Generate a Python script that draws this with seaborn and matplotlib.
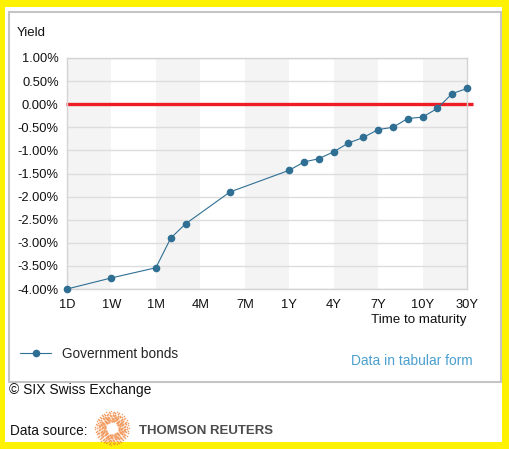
import numpy as np
import pandas as pd
import matplotlib
matplotlib.use("Agg")
import matplotlib.pyplot as plt
import seaborn as sns
from matplotlib.patches import Rectangle

# maturities on the axis (one slot per minor tick), labels every third slot
maturities = ["1D", "2D", "3D", "1W", "2W", "3W", "1M", "2M", "3M", "4M", "5M", "6M",
              "7M", "8M", "9M", "1Y", "2Y", "3Y", "4Y", "5Y", "6Y", "7Y", "8Y", "9Y",
              "10Y", "15Y", "20Y", "30Y"]
tick_labels = ["1D", "1W", "1M", "4M", "7M", "1Y", "4Y", "7Y", "10Y", "30Y"]

# government bond yields (in %)
bond_maturity = ["1D", "1W", "1M", "2M", "3M", "6M", "1Y", "2Y", "3Y", "4Y", "5Y", "6Y",
                 "7Y", "8Y", "9Y", "10Y", "15Y", "20Y", "30Y"]
bond_yield = [-4.00, -3.76, -3.54, -2.90, -2.59, -1.90, -1.43, -1.25, -1.18, -1.03, -0.84,
              -0.72, -0.55, -0.50, -0.31, -0.28, -0.09, 0.23, 0.34]

df = pd.DataFrame({"maturity": bond_maturity, "yield": bond_yield})
df["pos"] = df["maturity"].map({m: i for i, m in enumerate(maturities)})

sns.set_style("white")
plt.rcParams["font.family"] = ["Liberation Sans", "DejaVu Sans"]

W, H = 509, 449
fig = plt.figure(figsize=(W / 100, H / 100), dpi=100)
fig.patch.set_facecolor("#fff200")

# pixel-space overlay for frame and footer
bg = fig.add_axes([0, 0, 1, 1], zorder=0)
bg.set_xlim(0, W)
bg.set_ylim(H, 0)
bg.axis("off")
bg.add_patch(Rectangle((5, 7), 497, 435, facecolor="white", edgecolor="none"))
bg.add_patch(Rectangle((9, 12), 492, 370, facecolor="white", edgecolor="#c4c4c4", lw=1.5))

bg.text(17, 33, "Yield", fontsize=9.5, va="center", ha="left", color="#111111")
bg.text(467, 320, "Time to maturity", fontsize=9.6, va="center", ha="right", color="#111111")
bg.text(351, 361, "Data in tabular form", fontsize=9.9, va="center", ha="left", color="#4a9fcf")
bg.text(9, 390, "© SIX Swiss Exchange", fontsize=10, va="center", ha="left", color="#111111")
bg.text(10, 431, "Data source:", fontsize=9.8, va="center", ha="left", color="#111111")
bg.text(139, 431, "THOMSON REUTERS", fontsize=9.5, fontweight="bold", va="center",
        ha="left", color="#4d4d4d")

# dotted ring logo
cx, cy = 112, 428
for r in np.arange(7, 18, 1.6):
    n = int(r * 2.4)
    a = np.linspace(0, 2 * np.pi, n, endpoint=False) + r
    bg.scatter(cx + r * np.cos(a), cy + r * np.sin(a), s=4.5 - r / 5, color="#f0843a",
               alpha=0.8, linewidths=0)

# main chart
ax = fig.add_axes([67 / W, 1 - 289 / H, 400 / W, 231 / H], zorder=1)
ax.set_facecolor("white")
for k in range(0, 27, 6):
    ax.axvspan(k, k + 3, color="#f4f4f4", lw=0, zorder=0)

ax.set_xlim(0, 27)
ax.set_ylim(-4, 1)
ax.set_yticks(np.arange(-4, 1.01, 0.5))
ax.set_yticklabels([f"{v:.2f}%" for v in np.arange(-4, 1.01, 0.5)])
ax.yaxis.grid(True, color="#dddddd", lw=1, zorder=0.5)
ax.tick_params(axis="y", length=0, pad=6, labelsize=9.3, labelcolor="#111111")

ax.set_xticks(range(0, 28, 3))
ax.set_xticklabels(tick_labels)
ax.set_xticks(range(28), minor=True)
ax.tick_params(axis="x", which="both", length=5, width=1, color="#cccccc",
               direction="out", labelsize=9.3, labelcolor="#111111", pad=2)
for side in ["left", "bottom", "right", "top"]:
    ax.spines[side].set_color("#d4d4d4")
    ax.spines[side].set_linewidth(1)

ax.hlines(0, -0.05, 27.4, color="#ee1c25", lw=2.4, zorder=2, clip_on=False)

sns.lineplot(data=df, x="pos", y="yield", ax=ax, color="#2f6f94", lw=0.8, marker="o",
             markersize=5.5, markeredgewidth=0, label="Government bonds", zorder=3,
             clip_on=False, legend=False)
ax.set_xlabel("")
ax.set_ylabel("")

handles, labels = ax.get_legend_handles_labels()
fig.legend(handles, labels, loc="center left", bbox_to_anchor=(20 / W, 1 - 354 / H),
           frameon=False, fontsize=9.8, handlelength=2.3, handletextpad=0.8,
           borderpad=0, borderaxespad=0)

fig.savefig("out.png", dpi=100)
